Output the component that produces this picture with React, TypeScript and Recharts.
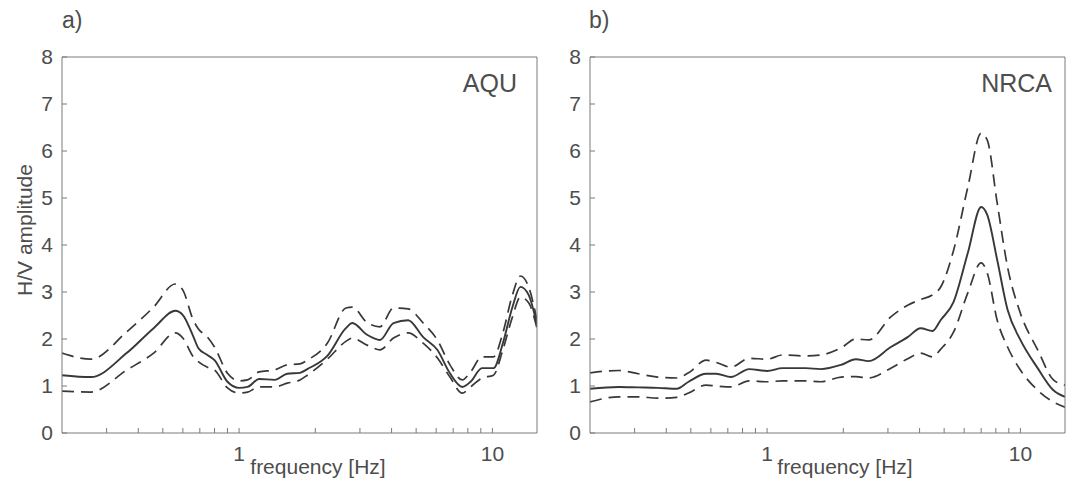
import React from "react";
import { LineChart, Line, XAxis, YAxis } from "recharts";

// AQU station (panel a)
const freqA = [0.2, 0.26, 0.36, 0.46, 0.56, 0.6, 0.66, 0.69, 0.75, 0.8, 0.9, 1.0, 1.08, 1.2, 1.38, 1.55, 1.74, 1.86, 2.23, 2.64, 2.8, 3.2, 3.6, 4.07, 4.65, 5.33, 6.06, 6.8, 7.6, 8.2, 9.1, 10.1, 11, 12, 12.9, 13.9, 15];
const meanA = [1.23, 1.19, 1.7, 2.23, 2.6, 2.51, 2.05, 1.81, 1.66, 1.55, 1.09, 0.96, 0.98, 1.15, 1.13, 1.26, 1.28, 1.36, 1.64, 2.23, 2.34, 2.09, 1.98, 2.34, 2.4, 2.04, 1.77, 1.27, 0.98, 1.09, 1.38, 1.38, 1.91, 2.68, 3.11, 2.94, 2.3];
const upperA = [1.7, 1.57, 2.15, 2.68, 3.17, 3.04, 2.4, 2.22, 2.04, 1.83, 1.27, 1.11, 1.13, 1.3, 1.34, 1.45, 1.47, 1.55, 1.91, 2.66, 2.68, 2.35, 2.26, 2.66, 2.64, 2.34, 1.98, 1.45, 1.13, 1.3, 1.62, 1.62, 2.13, 2.94, 3.34, 3.11, 2.4];
const lowerA = [0.89, 0.87, 1.34, 1.7, 2.13, 2.02, 1.62, 1.52, 1.4, 1.34, 0.96, 0.85, 0.87, 0.98, 0.98, 1.06, 1.13, 1.23, 1.57, 1.95, 2.02, 1.87, 1.77, 2.02, 2.13, 1.91, 1.6, 1.19, 0.85, 0.98, 1.17, 1.23, 1.77, 2.47, 2.89, 2.77, 2.23];

// NRCA station (panel b)
const freqB = [0.2, 0.26, 0.31, 0.37, 0.44, 0.49, 0.575, 0.63, 0.72, 0.85, 1.0, 1.15, 1.42, 1.63, 1.96, 2.24, 2.52, 3.08, 3.59, 4.04, 4.5, 4.84, 5.45, 6.2, 7.0, 7.4, 8.1, 8.9, 10, 11.7, 13.5, 15];
const meanB = [0.94, 0.98, 0.97, 0.96, 0.94, 1.09, 1.26, 1.26, 1.19, 1.36, 1.32, 1.38, 1.38, 1.36, 1.45, 1.57, 1.53, 1.83, 2.04, 2.23, 2.17, 2.4, 2.79, 3.83, 4.81, 4.64, 3.68, 2.62, 1.98, 1.38, 0.91, 0.77];
const upperB = [1.28, 1.33, 1.26, 1.19, 1.17, 1.28, 1.55, 1.5, 1.4, 1.59, 1.57, 1.66, 1.64, 1.66, 1.81, 2.0, 1.98, 2.47, 2.72, 2.84, 2.94, 3.1, 3.89, 5.23, 6.38, 6.23, 4.89, 3.53, 2.55, 1.77, 1.13, 1.02];
const lowerB = [0.66, 0.77, 0.77, 0.74, 0.76, 0.85, 1.02, 1.0, 0.98, 1.11, 1.09, 1.11, 1.11, 1.09, 1.19, 1.2, 1.17, 1.38, 1.58, 1.7, 1.62, 1.78, 2.15, 2.98, 3.62, 3.4, 2.4, 1.83, 1.34, 0.91, 0.66, 0.55];

const xTicks = [0.3, 0.4, 0.5, 0.6, 0.7, 0.8, 0.9, 1, 2, 3, 4, 5, 6, 7, 8, 9, 10];
const xLabels = [1, 10];
const yTicks = [0, 1, 2, 3, 4, 5, 6, 7, 8];

const FONT = '"Liberation Sans", Arial, Helvetica, sans-serif';
const TEXT = "#4d4d4d";
const FRAME = "#7a7a7a";
const CURVE = "#383838";

const rows = (f: number[], m: number[], u: number[], l: number[]) =>
  f.map((x, i) => ({ f: x, mean: m[i], upper: u[i], lower: l[i] }));

const dataA = rows(freqA, meanA, upperA, lowerA);
const dataB = rows(freqB, meanB, upperB, lowerB);

function Panel({ data, left }: { data: any[]; left: number }) {
  const tickFmt = (v: number) => (xLabels.includes(v) ? String(v) : "");
  return (
    <div style={{ position: "absolute", left, top: 0 }}>
      <LineChart
        width={550}
        height={484}
        data={data}
        margin={{ top: 52, right: 9, bottom: 21, left: 32 }}
      >
        <XAxis
          dataKey="f"
          type="number"
          scale="log"
          domain={[0.2, 15]}
          allowDataOverflow
          ticks={xTicks}
          interval={0}
          tickFormatter={tickFmt}
          tickSize={-5}
          tickMargin={18}
          height={30}
          stroke={FRAME}
          tick={{ fill: TEXT, fontSize: 21, fontFamily: FONT }}
        />
        <XAxis
          xAxisId="top"
          orientation="top"
          dataKey="f"
          type="number"
          scale="log"
          domain={[0.2, 15]}
          allowDataOverflow
          ticks={xTicks}
          interval={0}
          tick={false}
          tickSize={-5}
          height={5}
          stroke={FRAME}
        />
        <YAxis
          type="number"
          domain={[0, 8]}
          ticks={yTicks}
          interval={0}
          tickSize={-5}
          tickMargin={14}
          width={30}
          stroke={FRAME}
          tick={{ fill: TEXT, fontSize: 21, fontFamily: FONT }}
        />
        <YAxis
          yAxisId="right"
          orientation="right"
          type="number"
          domain={[0, 8]}
          ticks={yTicks}
          interval={0}
          tick={false}
          tickSize={-5}
          width={4}
          stroke={FRAME}
        />
        <Line
          dataKey="upper"
          type="monotone"
          stroke={CURVE}
          strokeWidth={1.7}
          strokeDasharray="12 7"
          dot={false}
          isAnimationActive={false}
        />
        <Line
          dataKey="lower"
          type="monotone"
          stroke={CURVE}
          strokeWidth={1.7}
          strokeDasharray="12 7"
          dot={false}
          isAnimationActive={false}
        />
        <Line
          dataKey="mean"
          type="monotone"
          stroke={CURVE}
          strokeWidth={1.9}
          dot={false}
          isAnimationActive={false}
        />
      </LineChart>
    </div>
  );
}

export default function App() {
  const t = { fill: TEXT, fontFamily: FONT };
  return (
    <div
      style={{
        position: "absolute",
        left: 0,
        top: 0,
        width: 1070,
        height: 484,
        overflow: "hidden",
        background: "#fff",
      }}
    >
      <Panel data={dataA} left={0} />
      <Panel data={dataB} left={528} />
      <svg
        width={1070}
        height={484}
        style={{ position: "absolute", left: 0, top: 0, pointerEvents: "none" }}
      >
        <text x={62} y={28} fontSize={23} {...t}>a)</text>
        <text x={589} y={28} fontSize={23} {...t}>b)</text>
        <text x={517} y={92} fontSize={25} textAnchor="end" {...t}>AQU</text>
        <text x={1052} y={92} fontSize={25} textAnchor="end" {...t}>NRCA</text>
        <text transform="translate(32,230) rotate(-90)" fontSize={21} textAnchor="middle" {...t}>
          H/V amplitude
        </text>
        <text x={318} y={474} fontSize={21} textAnchor="middle" {...t}>frequency [Hz]</text>
        <text x={845} y={474} fontSize={21} textAnchor="middle" {...t}>frequency [Hz]</text>
      </svg>
    </div>
  );
}
